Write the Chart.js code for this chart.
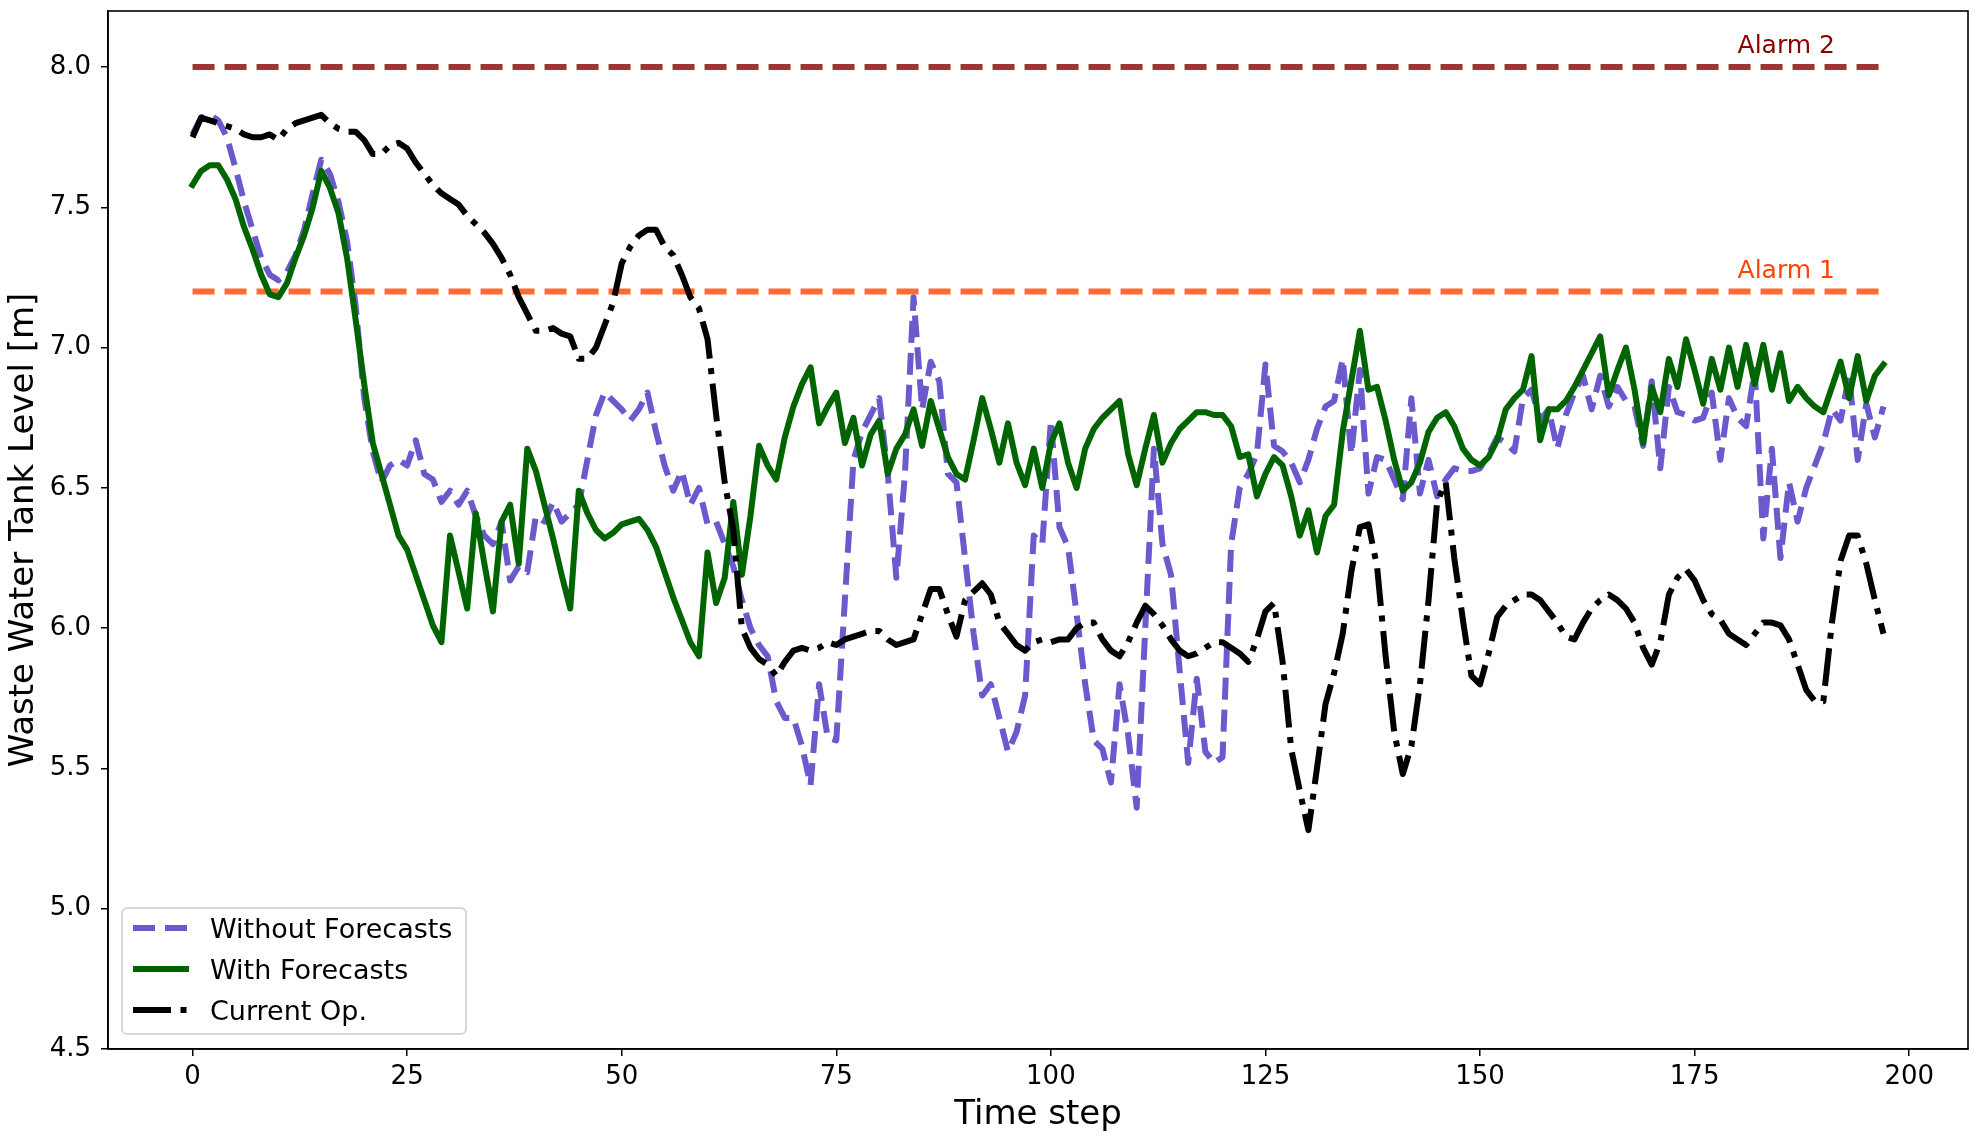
<!DOCTYPE html>
<html>
<head>
<meta charset="utf-8">
<title>Waste Water Tank Level</title>
<script src="https://cdn.jsdelivr.net/npm/chart.js@4.4.1/dist/chart.umd.min.js"></script>
<style>
    html, body { margin: 0; padding: 0; background: #fff; }
    #wrap { width: 1982px; height: 1137px; }
</style>
</head>
<body>
<div id="wrap"><canvas id="tank-chart" width="1982" height="1137"></canvas></div>
<script>
// Tank level per time step (0..197)
const withoutForecasts = [
    7.76, 7.82, 7.83, 7.81, 7.75, 7.64, 7.52, 7.42, 7.32, 7.26, 7.24, 7.27, 7.33, 7.42, 7.55, 7.67, 7.62, 7.52, 7.38, 7.15, 6.82, 6.63, 6.52, 6.58, 6.60, 6.58,
    6.67, 6.55, 6.53, 6.45, 6.49, 6.44, 6.49, 6.40, 6.33, 6.30, 6.38, 6.17, 6.22, 6.20, 6.40, 6.38, 6.45, 6.38, 6.41, 6.44, 6.60, 6.76, 6.84, 6.81, 6.78,
    6.74, 6.78, 6.84, 6.70, 6.58, 6.49, 6.56, 6.44, 6.50, 6.37, 6.38, 6.30, 6.22, 6.10, 6.00, 5.94, 5.90, 5.74, 5.68, 5.68, 5.58, 5.44, 5.80, 5.61, 5.60,
    6.10, 6.60, 6.70, 6.76, 6.82, 6.55, 6.18, 6.55, 7.18, 6.78, 6.95, 6.88, 6.55, 6.52, 6.25, 5.98, 5.76, 5.80, 5.68, 5.56, 5.63, 5.76, 6.33, 6.30, 6.74,
    6.36, 6.29, 6.05, 5.80, 5.60, 5.57, 5.45, 5.80, 5.62, 5.36, 6.00, 6.64, 6.30, 6.19, 5.85, 5.52, 5.82, 5.56, 5.52, 5.54, 6.30, 6.50, 6.55, 6.62, 6.94,
    6.65, 6.63, 6.59, 6.52, 6.60, 6.71, 6.79, 6.81, 6.96, 6.62, 6.92, 6.48, 6.61, 6.60, 6.53, 6.46, 6.82, 6.48, 6.60, 6.47, 6.53, 6.57, 6.56, 6.56, 6.57,
    6.62, 6.68, 6.66, 6.63, 6.82, 6.85, 6.74, 6.78, 6.64, 6.76, 6.84, 6.90, 6.78, 6.90, 6.79, 6.86, 6.81, 6.79, 6.65, 6.88, 6.57, 6.86, 6.77, 6.76, 6.74,
    6.75, 6.84, 6.60, 6.82, 6.75, 6.72, 6.92, 6.32, 6.64, 6.25, 6.52, 6.38, 6.50, 6.58, 6.66, 6.78, 6.74, 6.90, 6.60, 6.80, 6.68, 6.79
];
const withForecasts = [
    7.58, 7.63, 7.65, 7.65, 7.60, 7.53, 7.43, 7.35, 7.26, 7.19, 7.18, 7.23, 7.32, 7.40, 7.50, 7.63, 7.57, 7.48, 7.32, 7.10, 6.87, 6.66, 6.55, 6.44, 6.33, 6.28,
    6.19, 6.10, 6.01, 5.95, 6.33, 6.20, 6.07, 6.41, 6.23, 6.06, 6.38, 6.44, 6.23, 6.64, 6.56, 6.44, 6.32, 6.19, 6.07, 6.49, 6.41, 6.35, 6.32, 6.34, 6.37,
    6.38, 6.39, 6.35, 6.29, 6.20, 6.11, 6.03, 5.95, 5.90, 6.27, 6.09, 6.18, 6.45, 6.19, 6.40, 6.65, 6.58, 6.53, 6.68, 6.79, 6.87, 6.93, 6.73, 6.79, 6.84,
    6.66, 6.75, 6.58, 6.69, 6.74, 6.55, 6.64, 6.69, 6.78, 6.65, 6.81, 6.71, 6.61, 6.55, 6.53, 6.67, 6.82, 6.71, 6.59, 6.73, 6.59, 6.51, 6.64, 6.50, 6.66,
    6.73, 6.59, 6.50, 6.64, 6.71, 6.75, 6.78, 6.81, 6.62, 6.51, 6.64, 6.76, 6.59, 6.66, 6.71, 6.74, 6.77, 6.77, 6.76, 6.76, 6.72, 6.61, 6.62, 6.47, 6.55,
    6.61, 6.58, 6.47, 6.33, 6.42, 6.27, 6.40, 6.44, 6.70, 6.88, 7.06, 6.85, 6.86, 6.74, 6.60, 6.49, 6.52, 6.59, 6.70, 6.75, 6.77, 6.72, 6.64, 6.60, 6.58,
    6.61, 6.67, 6.78, 6.82, 6.85, 6.97, 6.67, 6.78, 6.78, 6.81, 6.86, 6.92, 6.98, 7.04, 6.83, 6.92, 7.00, 6.85, 6.66, 6.86, 6.77, 6.96, 6.86, 7.03, 6.92,
    6.80, 6.96, 6.85, 7.00, 6.86, 7.01, 6.87, 7.01, 6.85, 6.98, 6.81, 6.86, 6.82, 6.79, 6.77, 6.86, 6.95, 6.82, 6.97, 6.81, 6.90, 6.94
];
const currentOp = [
    7.75, 7.82, 7.81, 7.80, 7.79, 7.78, 7.76, 7.75, 7.75, 7.76, 7.74, 7.78, 7.80, 7.81, 7.82, 7.83, 7.80, 7.78, 7.77, 7.77, 7.74, 7.69, 7.69, 7.72, 7.73, 7.71,
    7.66, 7.62, 7.58, 7.55, 7.53, 7.51, 7.47, 7.44, 7.41, 7.37, 7.32, 7.26, 7.18, 7.12, 7.06, 7.06, 7.07, 7.05, 7.04, 6.96, 6.96, 7.00, 7.08, 7.16, 7.30,
    7.36, 7.40, 7.42, 7.42, 7.36, 7.33, 7.26, 7.18, 7.14, 7.03, 6.76, 6.52, 6.35, 6.00, 5.93, 5.89, 5.87, 5.83, 5.88, 5.92, 5.93, 5.92, 5.93, 5.95, 5.94,
    5.96, 5.97, 5.98, 5.99, 5.99, 5.96, 5.94, 5.95, 5.96, 6.05, 6.14, 6.14, 6.05, 5.97, 6.10, 6.13, 6.16, 6.12, 6.02, 5.98, 5.94, 5.92, 5.95, 5.96, 5.95,
    5.96, 5.96, 6.00, 6.02, 6.02, 5.96, 5.92, 5.90, 5.95, 6.02, 6.08, 6.05, 6.01, 5.96, 5.92, 5.90, 5.91, 5.93, 5.95, 5.95, 5.93, 5.91, 5.88, 5.96, 6.06,
    6.09, 5.88, 5.57, 5.42, 5.28, 5.50, 5.73, 5.84, 5.98, 6.20, 6.36, 6.37, 6.22, 5.90, 5.63, 5.48, 5.58, 5.80, 6.10, 6.45, 6.52, 6.25, 6.03, 5.83, 5.80,
    5.91, 6.04, 6.08, 6.10, 6.12, 6.12, 6.10, 6.06, 6.02, 5.97, 5.96, 6.02, 6.07, 6.10, 6.12, 6.10, 6.07, 6.02, 5.93, 5.87, 5.95, 6.12, 6.18, 6.21, 6.17,
    6.10, 6.05, 6.03, 5.98, 5.96, 5.94, 5.98, 6.02, 6.02, 6.01, 5.96, 5.87, 5.78, 5.74, 5.74, 6.02, 6.24, 6.33, 6.33, 6.23, 6.10, 5.98
];

const seriesNames = ["Without Forecasts", "With Forecasts", "Current Op."];
const alarmLevels = [7.2, 8.0];
const alarmNames = ["Alarm 1", "Alarm 2"];
const xTicks = [0, 25, 50, 75, 100, 125, 150, 175, 200];
const yTicks = [4.5, 5.0, 5.5, 6.0, 6.5, 7.0, 7.5, 8.0];

const FONT = "'DejaVu Sans', sans-serif";
Chart.defaults.font.family = FONT;
Chart.defaults.color = "#000";

// Turn a list of levels into {x, y} points, x being the time step
function toPoints(values) {
    return values.map(function(v, i) { return { x: i, y: v }; });
}

const lastStep = withoutForecasts.length - 1;

// Horizontal alarm threshold spanning the simulated period
function alarmLine(level) {
    return [{ x: 0, y: level }, { x: lastStep, y: level }];
}

// Draw the full box round the plot, like matplotlib spines
const frame = {
    id: "frame",
    afterDraw(chart) {
        const a = chart.chartArea;
        const ctx = chart.ctx;
        ctx.save();
        ctx.strokeStyle = "#000";
        ctx.lineWidth = 1.6;
        ctx.strokeRect(a.left, a.top, a.right - a.left, a.bottom - a.top);
        ctx.restore();
    }
};

// Text labels sitting just above the alarm lines
const alarmLabels = {
    id: "alarmLabels",
    afterDatasetsDraw(chart) {
        const ctx = chart.ctx;
        const xs = chart.scales.x;
        const ys = chart.scales.y;
        const colors = ["#ff4500", "#8b0000"];
        ctx.save();
        ctx.font = "25px " + FONT;
        ctx.textAlign = "left";
        ctx.textBaseline = "alphabetic";
        alarmLevels.forEach(function(level, i) {
            ctx.fillStyle = colors[i];
            ctx.fillText(alarmNames[i], xs.getPixelForValue(180), ys.getPixelForValue(level + 0.05));
        });
        ctx.restore();
    }
};

// Boxed legend in the lower left corner of the plot
const boxLegend = {
    id: "boxLegend",
    afterDraw(chart) {
        const ctx = chart.ctx;
        const a = chart.chartArea;
        const items = chart.data.datasets.filter(function(d) { return d.inLegend; });
        const w = 344, h = 126;
        const x0 = a.left + 14;
        const y0 = a.bottom - 15 - h;
        ctx.save();
        ctx.fillStyle = "rgba(255,255,255,0.8)";
        ctx.strokeStyle = "#cccccc";
        ctx.lineWidth = 1.5;
        ctx.beginPath();
        ctx.roundRect(x0, y0, w, h, 5);
        ctx.fill();
        ctx.stroke();
        ctx.font = "27px " + FONT;
        ctx.textAlign = "left";
        ctx.textBaseline = "alphabetic";
        items.forEach(function(d, i) {
            const y = y0 + 20 + i * 41;
            ctx.strokeStyle = d.borderColor;
            ctx.lineWidth = d.borderWidth;
            ctx.lineCap = "butt";
            ctx.setLineDash(d.borderDash || []);
            ctx.beginPath();
            ctx.moveTo(x0 + 11, y);
            ctx.lineTo(x0 + 67, y);
            ctx.stroke();
            ctx.setLineDash([]);
            ctx.fillStyle = "#000";
            ctx.fillText(d.label, x0 + 88, y + 10);
        });
        ctx.restore();
    }
};

const axisFont = { family: FONT, size: 26 };
const titleFont = { family: FONT, size: 34, lineHeight: 1.2 };

// Chart.js pads vertical axes by half a label height; matplotlib does not
function noLabelPadding(s) {
    s.paddingTop = 0;
    s.paddingBottom = 0;
}

const ctx = document.getElementById("tank-chart").getContext("2d");
new Chart(ctx, {
    type: "line",
    data: {
        datasets: [
            {
                label: seriesNames[0],
                data: toPoints(withoutForecasts),
                borderColor: "#6a5acd",
                borderWidth: 6,
                borderDash: [22, 10],
                borderJoinStyle: "round",
                pointRadius: 0,
                order: 3,
                inLegend: true
            },
            {
                label: seriesNames[1],
                data: toPoints(withForecasts),
                borderColor: "#006400",
                borderWidth: 6,
                borderJoinStyle: "round",
                borderCapStyle: "square",
                pointRadius: 0,
                order: 2,
                inLegend: true
            },
            {
                label: seriesNames[2],
                data: toPoints(currentOp),
                borderColor: "#000000",
                borderWidth: 6,
                borderDash: [38, 9.5, 6, 9.5],
                borderJoinStyle: "round",
                pointRadius: 0,
                order: 1,
                inLegend: true
            },
            {
                label: alarmNames[0],
                data: alarmLine(alarmLevels[0]),
                borderColor: "rgba(255,69,0,0.8)",
                borderWidth: 6,
                borderDash: [22, 10],
                pointRadius: 0,
                order: 4
            },
            {
                label: alarmNames[1],
                data: alarmLine(alarmLevels[1]),
                borderColor: "rgba(139,0,0,0.8)",
                borderWidth: 6,
                borderDash: [22, 10],
                pointRadius: 0,
                order: 5
            }
        ]
    },
    options: {
        responsive: false,
        animation: false,
        devicePixelRatio: 1,
        layout: { padding: { top: 11, right: 14, left: 0, bottom: 0 } },
        plugins: {
            legend: { display: false },
            tooltip: { enabled: false }
        },
        scales: {
            x: {
                type: "linear",
                min: -9.85,
                max: 206.85,
                afterBuildTicks: function(s) { s.ticks = xTicks.map(function(v) { return { value: v }; }); },
                afterFit: function(s) { s.height = 88; s.paddingLeft = 0; s.paddingRight = 0; },
                grid: { display: true, drawOnChartArea: false, drawTicks: true, tickLength: 7, color: "#000", lineWidth: 1.5 },
                border: { display: true, color: "#000", width: 1.6 },
                ticks: {
                    autoSkip: false,
                    maxRotation: 0,
                    padding: 6,
                    color: "#000",
                    font: axisFont,
                    callback: function(v) { return String(v); }
                },
                title: { display: true, text: "Time step", color: "#000", font: titleFont, padding: { top: 0, bottom: 1 } }
            },
            y: {
                type: "linear",
                min: 4.5,
                max: 8.2,
                afterBuildTicks: function(s) { s.ticks = yTicks.map(function(v) { return { value: v }; }); },
                afterFit: function(s) { s.width = 108; noLabelPadding(s); },
                grid: { display: true, drawOnChartArea: false, drawTicks: true, tickLength: 7, color: "#000", lineWidth: 1.5 },
                border: { display: true, color: "#000", width: 1.6 },
                ticks: {
                    autoSkip: false,
                    padding: 10,
                    color: "#000",
                    font: axisFont,
                    callback: function(v) { return v.toFixed(1); }
                },
                title: { display: true, text: "Waste Water Tank Level [m]", color: "#000", font: titleFont, padding: { top: 4, bottom: 0 } }
            }
        }
    },
    plugins: [alarmLabels, frame, boxLegend]
});
</script>
</body>
</html>
